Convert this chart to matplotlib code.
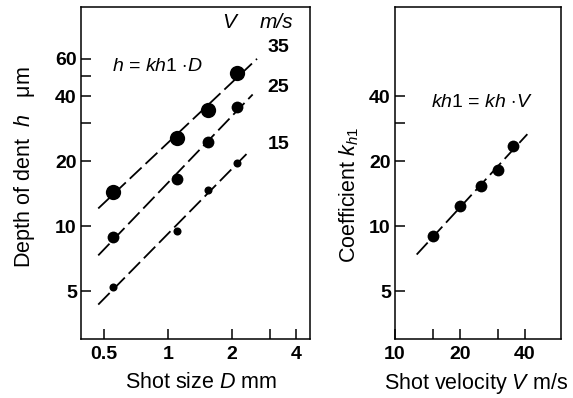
import numpy as np
import matplotlib.pyplot as plt
from matplotlib.ticker import FixedLocator, FixedFormatter, NullLocator

plt.rcParams['font.family'] = ['Liberation Sans', 'DejaVu Sans']
plt.rcParams['mathtext.fontset'] = 'custom'
plt.rcParams['mathtext.rm'] = 'Liberation Sans'
plt.rcParams['mathtext.it'] = 'Liberation Sans:italic'

# Depth of dent vs shot size, for three shot velocities
shot_size = [0.55, 1.1, 1.55, 2.1]
velocity_labels = ['35', '25', '15']
depth = {
    '35': [14.4, 25.8, 34.8, 51.6],
    '25': [8.9, 16.5, 24.7, 35.6],
    '15': [5.2, 9.5, 14.8, 19.6],
}
# Coefficient kh1 vs shot velocity
velocity = [15, 20, 25, 30, 35]
coef = [9.0, 12.4, 15.3, 18.2, 23.5]

W, H = 573, 398
fig = plt.figure(figsize=(W / 100, H / 100), dpi=100)


def px_axes(x0, y0, x1, y1):
    return fig.add_axes([x0 / W, 1 - y1 / H, (x1 - x0) / W, (y1 - y0) / H])


def style(ax):
    for s in ax.spines.values():
        s.set_linewidth(1.1)
    ax.tick_params(which='both', direction='in', length=7, width=1.1,
                   labelsize=14)
    ax.tick_params(axis='y', pad=3)
    ax.tick_params(axis='x', pad=5)
    for lab in ax.get_xticklabels() + ax.get_yticklabels():
        lab.set_fontweight('bold')


def set_ticks(axis, values, labels):
    axis.set_major_locator(FixedLocator(values))
    axis.set_major_formatter(FixedFormatter(labels))
    axis.set_minor_locator(NullLocator())


dash = dict(color='black', lw=1.3, dashes=(9, 3))

# left panel
ax1 = px_axes(81, 7, 310, 339)
ax1.set_xscale('log')
ax1.set_yscale('log')
ax1.set_xlim(0.39, 4.65)
ax1.set_ylim(3.0, 104)

sizes = {'35': 11, '25': 8.5, '15': 5.8}
extent = {'35': (0.47, 2.62), '25': (0.47, 2.5), '15': (0.47, 2.43)}
for v in velocity_labels:
    lx, ly = np.log10(shot_size), np.log10(depth[v])
    k, b = np.polyfit(lx, ly, 1)
    xs = np.array(extent[v])
    ax1.plot(xs, 10 ** (k * np.log10(xs) + b), **dash)
    ax1.plot(shot_size, depth[v], 'o', color='black', ms=sizes[v], mew=0)

set_ticks(ax1.xaxis, [0.5, 1, 2, 3, 4], ['0.5', '1', '2', '', '4'])
set_ticks(ax1.yaxis, [5, 10, 20, 30, 40, 50, 60],
          ['5', '10', '20', '', '40', '', '60'])
style(ax1)

ax1.text(0.888, 55.1, r'$h$ = $kh1$ $\cdot D$', fontsize=14,
         ha='center', va='center')
ax1.text(1.93, 87.8, 'V', fontsize=15, style='italic', ha='center', va='center')
ax1.text(3.25, 87.8, 'm/s', fontsize=15, style='italic', ha='center', va='center')
label_y = {'35': 67.5, '25': 44.0, '15': 23.9}
for v in velocity_labels:
    ax1.text(3.3, label_y[v], v, fontsize=14, fontweight='bold',
             ha='center', va='center')

# right panel
ax2 = px_axes(395, 7, 561, 339)
ax2.set_xscale('log')
ax2.set_yscale('log')
ax2.set_xlim(10, 58.7)
ax2.set_ylim(3.0, 104)

k, b = np.polyfit(np.log10(velocity), np.log10(coef), 1)
xs = np.array([12.6, 41])
ax2.plot(xs, 10 ** (k * np.log10(xs) + b), **dash)
ax2.plot(velocity, coef, 'o', color='black', ms=8.5, mew=0)

set_ticks(ax2.xaxis, [10, 15, 20, 30, 40], ['10', '', '20', '', '40'])
set_ticks(ax2.yaxis, [5, 10, 20, 30, 40], ['5', '10', '20', '', '40'])
style(ax2)

ax2.text(25.3, 37.5, r'$kh1$ = $kh$ $\cdot V$', fontsize=14,
         ha='center', va='center')

# axis titles
fig.text(201 / W, 1 - 383 / H, r'Shot size $D$ mm', fontsize=15.5,
         ha='center', va='center')
fig.text(476 / W, 1 - 383 / H, r'Shot velocity $V$ m/s', fontsize=15.5,
         ha='center', va='center')
fig.text(25 / W, 1 - 167 / H, r'Depth of dent  $h$   μm', fontsize=15.5,
         rotation=90, ha='center', va='center')
fig.text(349 / W, 1 - 195 / H, r'Coefficient $k_{h1}$', fontsize=15.5,
         rotation=90, ha='center', va='center')

fig.savefig('out.png', dpi=100)
